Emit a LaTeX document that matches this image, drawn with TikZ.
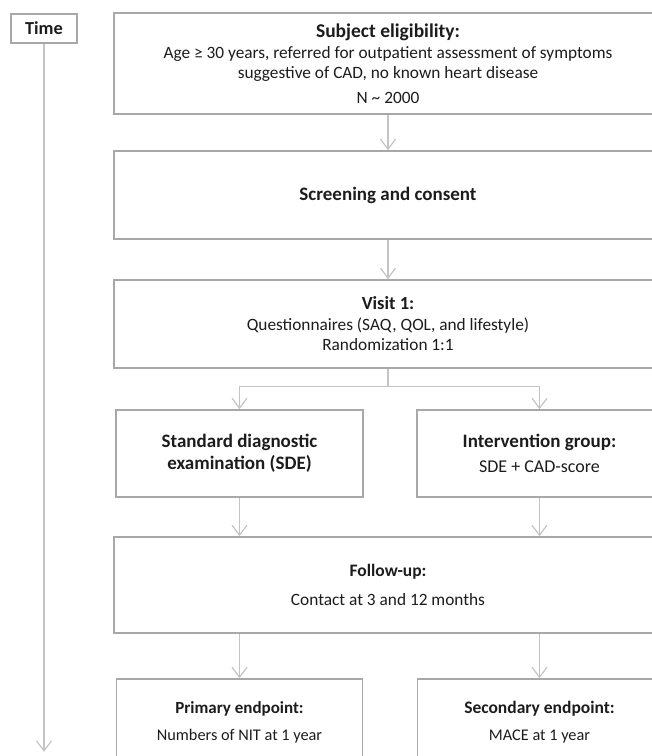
\documentclass[tikz,border=0pt]{standalone}
\usepackage{fontspec}
\setmainfont{Carlito}
\usetikzlibrary{arrows.meta}
\definecolor{boxgray}{RGB}{168,168,168}
\definecolor{linegray}{RGB}{196,196,196}
\definecolor{txtgray}{RGB}{28,28,28}
\newcommand{\hd}[2]{{\fontsize{#1}{#1}\selectfont\bfseries #2}}
\tikzset{
  box/.style={draw=boxgray, line width=1.6pt, align=center, inner sep=0pt,
    text=txtgray, font=\fontsize{17.3}{20.5}\selectfont},
  con/.style={draw=linegray, line width=1.2pt,
    -{Straight Barb[length=10pt,width=15pt]}}
}
\begin{document}
\begin{tikzpicture}[x=1pt,y=1pt]
    \useasboundingbox (0,0) rectangle (652,-756);
    \clip (0,0) rectangle (652,-756);
    \node[box, minimum width=66, minimum height=29] (tim) at (44,-28.5) {\hd{18.3}{Time}};
    \node[box, minimum width=548, minimum height=101] (sub) at (388,-63.5)
      {\hd{19.5}{Subject eligibility:}\\Age ≥ 30 years, referred for outpatient assessment of symptoms\\suggestive of CAD, no known heart disease\\[4pt]N \char`\~{} 2000};
    \node[box, minimum width=548, minimum height=88] (scr) at ([shift={(0,-131.5)}] sub) {\hd{19}{Screening and consent}};
    \node[box, minimum width=548, minimum height=88] (vis) at ([shift={(0,-129)}] scr)
      {\hd{18.5}{Visit 1:}\\Questionnaires (SAQ, QOL, and lifestyle)\\Randomization 1:1};
    \node[box, minimum width=247, minimum height=87, font=\fontsize{19}{22}\selectfont\bfseries] (sde) at ([shift={(-148.5,-129.5)}] vis)
      {Standard diagnostic\\examination (SDE)};
    \node[box, minimum width=245, minimum height=87, font=\fontsize{18}{20}\selectfont] (int) at ([shift={(300,0)}] sde)
      {\hd{19}{Intervention group:}\\[5pt]SDE + CAD-score};
    \node[box, minimum width=548, minimum height=96] (fol) at ([shift={(0,-261)}] vis)
      {\hd{17.5}{Follow-up:}\\[8pt]Contact at 3 and 12 months};
    \node[box, minimum width=246, minimum height=86, font=\fontsize{16.3}{19}\selectfont] (pri) at ([shift={(0,-268.5)}] sde)
      {\hd{17}{Primary endpoint:}\\[8pt]Numbers of NIT at 1 year};
    \node[box, minimum width=244, minimum height=86, font=\fontsize{16.3}{19}\selectfont] (sec) at ([shift={(0,-268.5)}] int)
      {\hd{17.5}{Secondary endpoint:}\\[8pt]MACE at 1 year};
    \coordinate (end) at ([shift={(0,-708)}] tim.south);
    \draw [con] (tim.south) to (end);
    \draw [con] (sub) to (scr);
    \draw [con] (scr) to (vis);
    \draw [con] (vis.south) -- ++(0,-18) -| (sde.north);
    \draw [con] (vis.south) -- ++(0,-18) -| (int.north);
    \draw [con] (sde.south) -- (sde.south |- fol.north);
    \draw [con] (int.south) -- (int.south |- fol.north);
    \draw [con] (fol.south -| pri.north) -- (pri.north);
    \draw [con] (fol.south -| sec.north) -- (sec.north);
\end{tikzpicture}
\end{document}
